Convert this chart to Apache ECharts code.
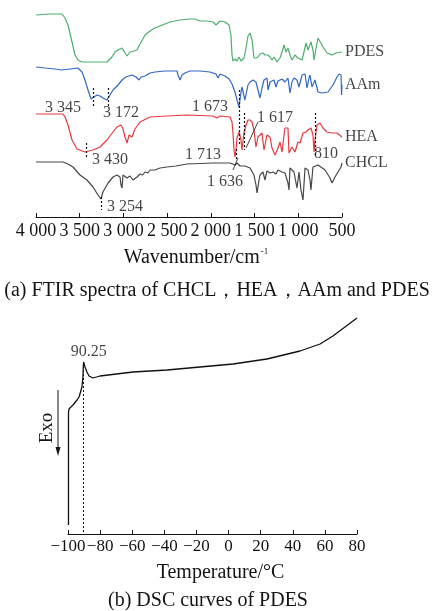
<!DOCTYPE html>
<html>
<head>
<meta charset="utf-8">
<script src="https://cdn.jsdelivr.net/npm/echarts@6.0.0/dist/echarts.min.js"></script>
<style>
  html, body { margin: 0; padding: 0; background: #fff; }
  #chart { width: 434px; height: 611px; }
</style>
</head>
<body>
<div id="chart"></div>
<script>
// FTIR spectra, [wavenumber (cm-1), relative transmittance (a.u., curves offset)]
const pdesSpec = [
  [4000, 202], [3840, 203], [3703, 203], [3668, 199], [3634, 192], [3588, 175], [3554, 162], [3520, 157],
  [3474, 155], [3188, 155], [3131, 160], [3096, 165], [3062, 167], [3016, 169], [2982, 164], [2959, 161],
  [2925, 165], [2879, 166], [2845, 167], [2810, 173], [2753, 182], [2696, 186], [2639, 189], [2582, 191],
  [2467, 195], [2353, 197], [2239, 198], [2181, 198], [2124, 196], [2044, 196], [1975, 195], [1941, 192],
  [1918, 194], [1895, 196], [1838, 195], [1792, 192], [1770, 182], [1758, 162], [1747, 156], [1724, 158],
  [1701, 156], [1678, 160], [1655, 156], [1621, 159], [1598, 169], [1575, 181], [1552, 184], [1529, 177],
  [1507, 159], [1484, 159], [1461, 160], [1438, 163], [1404, 164], [1381, 162], [1346, 162], [1323, 160],
  [1301, 157], [1278, 160], [1243, 155], [1209, 159], [1186, 165], [1163, 172], [1140, 165], [1118, 169],
  [1095, 162], [1072, 157], [1038, 162], [1003, 159], [957, 157], [935, 165], [912, 174], [889, 167],
  [855, 175], [832, 167], [820, 157], [797, 169], [774, 179], [752, 180], [717, 170], [672, 164],
  [614, 162], [569, 164], [500, 165]
];
const aamSpec = [
  [4000, 150], [3897, 149], [3783, 148], [3703, 147], [3611, 148], [3520, 149], [3474, 145], [3440, 137],
  [3405, 127], [3371, 118], [3359, 117], [3337, 120], [3302, 122], [3268, 121], [3234, 119], [3188, 117],
  [3154, 122], [3119, 127], [3062, 132], [3016, 137], [2971, 140], [2902, 142], [2856, 140], [2822, 137],
  [2799, 140], [2753, 141], [2696, 144], [2639, 145], [2525, 146], [2387, 146], [2376, 142], [2353, 137],
  [2330, 142], [2296, 144], [2239, 146], [2124, 146], [2010, 145], [1941, 143], [1918, 139], [1895, 143],
  [1838, 141], [1792, 138], [1758, 133], [1724, 125], [1701, 117], [1678, 110], [1655, 125], [1644, 130],
  [1621, 121], [1610, 117], [1587, 127], [1575, 132], [1552, 135], [1518, 137], [1484, 135], [1461, 127],
  [1438, 119], [1415, 129], [1392, 137], [1358, 139], [1346, 127], [1323, 135], [1301, 137], [1278, 137],
  [1255, 130], [1232, 136], [1186, 138], [1152, 135], [1118, 139], [1095, 124], [1072, 135], [1049, 139],
  [1015, 137], [992, 130], [957, 142], [923, 143], [900, 129], [877, 139], [866, 142], [843, 130],
  [809, 137], [774, 125], [729, 124], [660, 125], [603, 132], [557, 140], [534, 143], [511, 142],
  [505, 122], [500, 132]
];
const heaSpec = [
  [4000, 103], [3840, 103], [3691, 103], [3668, 100], [3634, 92], [3588, 77], [3531, 68], [3440, 65],
  [3348, 67], [3268, 70], [3188, 77], [3119, 85], [3074, 90], [3028, 92], [3005, 88], [2982, 80],
  [2959, 74], [2936, 82], [2902, 80], [2868, 88], [2810, 95], [2696, 100], [2502, 101], [2273, 102],
  [1975, 101], [1930, 99], [1895, 101], [1781, 100], [1758, 95], [1747, 84], [1735, 67], [1724, 60],
  [1712, 67], [1701, 79], [1678, 85], [1655, 77], [1644, 67], [1621, 84], [1598, 92], [1575, 97],
  [1552, 97], [1529, 95], [1507, 87], [1484, 70], [1461, 80], [1415, 84], [1392, 67], [1358, 82],
  [1323, 80], [1301, 69], [1266, 62], [1232, 69], [1209, 75], [1186, 65], [1163, 82], [1152, 89],
  [1118, 89], [1106, 64], [1072, 70], [1038, 65], [1003, 75], [980, 74], [946, 84], [912, 85],
  [889, 87], [855, 89], [832, 82], [820, 65], [809, 77], [786, 92], [752, 94], [717, 89],
  [672, 85], [614, 84], [557, 84], [500, 80]
];
const chclSpec = [
  [4000, 55], [3840, 55], [3691, 55], [3634, 53], [3577, 50], [3497, 42], [3417, 37], [3348, 30],
  [3291, 22], [3257, 18], [3234, 25], [3176, 34], [3119, 40], [3074, 42], [3039, 40], [3028, 32],
  [3016, 29], [3005, 42], [2959, 39], [2925, 41], [2891, 37], [2845, 40], [2810, 43], [2780, 42],
  [2753, 45], [2720, 44], [2696, 47], [2640, 47], [2582, 49], [2502, 50], [2400, 51], [2273, 53],
  [1975, 54], [1781, 54], [1724, 52], [1701, 54], [1667, 51], [1610, 51], [1552, 49], [1507, 42],
  [1484, 32], [1472, 24], [1449, 37], [1438, 42], [1404, 45], [1381, 37], [1358, 46], [1323, 44],
  [1289, 45], [1255, 43], [1232, 47], [1186, 45], [1152, 44], [1118, 34], [1106, 27], [1095, 49],
  [1049, 45], [1015, 29], [992, 45], [969, 27], [946, 17], [923, 49], [889, 47], [866, 37],
  [855, 27], [832, 50], [774, 52], [694, 47], [637, 39], [614, 34], [580, 40], [546, 45],
  [511, 50], [500, 54]
];
const ftirNames = ['PDES', 'AAm', 'HEA', 'CHCL'];
const ftirTicks = [500, 1000, 1500, 2000, 2500, 3000, 3500, 4000];

// peak marks: [wavenumber, from, to]
const peakGuides = [
  [3345, 129, 110], [3172, 129, 110], [1673, 127, 72], [1617, 104, 67],
  [810, 104, 62], [3430, 74, 59], [3254, 20, 7], [1713, 68, 58]
];
// leader lines: [[w1, v1], [w2, v2]]
const peakLeaders = [
  [[1461, 95], [1598, 69]],
  [[1690, 59], [1747, 47]]
];
// peak labels: [wavenumber, value, text]
const peakLabels = [
  [3691, 109, '3 345'], [3028, 104, '3 172'], [2010, 110, '1 673'], [1266, 99, '1 617'],
  [3154, 57, '3 430'], [2090, 62, '1 713'], [683, 63, '810'], [1838, 35, '1 636'], [2982, 10, '3 254']
];

// DSC curve, [temperature (°C), heat flow (a.u.)]
const dscCurve = [
  [-99.7, 9], [-99.7, 121], [-99.4, 125], [-98.8, 127], [-96.9, 129], [-94.4, 134], [-93.1, 137],
  [-92.5, 139], [-91.3, 147], [-90.7, 157], [-90.45, 168], [-90.25, 172], [-89.9, 170], [-89.4, 167],
  [-88.2, 162], [-86.9, 158], [-85.7, 156], [-84.4, 156], [-83.2, 157], [-80.1, 158], [-59.5, 162],
  [-38.3, 164], [-17.8, 167], [2.8, 170], [23.9, 175], [44.5, 183], [57.0, 190], [65.0, 198],
  [72.5, 207], [80, 216]
];
const dscPeak = [-90.25, 172, '90.25'];
const dscTicks = [-100, -80, -60, -40, -20, 0, 20, 40, 60, 80];

const FONT = "'Liberation Serif', 'Times New Roman', serif";
const INK = '#161314';
const colors = ['#4dae6e', '#3168c2', '#e8393f', '#474747'];
const specs = [pdesSpec, aamSpec, heaSpec, chclSpec];

function axisBase(grid, ticks) {
  return {
    gridIndex: grid,
    type: 'value',
    min: ticks[0],
    max: ticks[ticks.length - 1],
    interval: ticks[1] - ticks[0],
    axisLine: { lineStyle: { color: INK, width: 1 } },
    axisTick: { inside: true, length: 4, lineStyle: { color: INK } },
    splitLine: { show: false },
    nameLocation: 'middle'
  };
}

function textLabels(xi, data, pos) {
  return {
    type: 'scatter',
    xAxisIndex: xi, yAxisIndex: xi,
    data: data,
    symbolSize: 0,
    silent: true,
    z: 4,
    label: {
      show: true, position: pos, distance: 3,
      formatter: p => p.data[2],
      color: INK, fontSize: 16, fontFamily: FONT,
      textBorderWidth: 0
    }
  };
}

const ftirSeries = specs.map((d, i) => ({
  name: ftirNames[i],
  type: 'line',
  xAxisIndex: 0, yAxisIndex: 0,
  data: d,
  showSymbol: false,
  lineStyle: { color: colors[i], width: 1.2 },
  z: 2
}));

// dashed guides + leaders on top of the spectra
ftirSeries.push({
  type: 'line',
  xAxisIndex: 0, yAxisIndex: 0,
  data: [],
  markLine: {
    silent: true, symbol: 'none', animation: false,
    label: { show: false },
    data: peakGuides.map(g => [
      { coord: [g[0], g[1]], lineStyle: { type: [2, 2], color: INK, width: 1.2 } },
      { coord: [g[0], g[2]] }
    ]).concat(peakLeaders.map(l => [
      { coord: l[0], lineStyle: { type: 'solid', color: INK, width: 0.8 } },
      { coord: l[1] }
    ]))
  },
  z: 3
});

ftirSeries.push(textLabels(0, peakLabels, 'inside'));
// curve names at the right end of each spectrum
ftirSeries.push(textLabels(0, specs.map((d, i) => [d[d.length - 1][0], d[d.length - 1][1], ftirNames[i]]), 'right'));

const dscSeries = [
  {
    type: 'line',
    xAxisIndex: 1, yAxisIndex: 1,
    data: dscCurve,
    showSymbol: false,
    lineStyle: { color: '#111', width: 1.3 },
    markLine: {
      silent: true, symbol: 'none', animation: false,
      label: { show: false },
      lineStyle: { type: [2, 2], color: INK, width: 1 },
      data: [[{ coord: [dscPeak[0], dscPeak[1]] }, { coord: [dscPeak[0], 0] }]]
    }
  },
  textLabels(1, [[dscPeak[0] + 3.2, dscPeak[1] + 10, dscPeak[2]]], 'inside')
];

const chart = echarts.init(document.getElementById('chart'));
chart.setOption({
  animation: false,
  backgroundColor: '#fff',
  title: [
    {
      text: '(a) FTIR spectra of CHCL，HEA，AAm and PDES',
      left: 'center', top: 281, padding: 0,
      textStyle: { color: INK, fontSize: 20, fontWeight: 'normal', fontFamily: FONT }
    },
    {
      text: '(b) DSC curves of PDES',
      left: 108, top: 591, padding: 0,
      textStyle: { color: INK, fontSize: 20, fontWeight: 'normal', fontFamily: FONT }
    }
  ],
  grid: [
    { left: 36, top: 7, width: 306, height: 210 },
    { left: 68, top: 310, width: 289, height: 224 }
  ],
  xAxis: [
    Object.assign(axisBase(0, ftirTicks), {
      inverse: true,
      name: '{a|Wavenumber/cm}{s|-1}',
      nameGap: 30,
      nameTextStyle: {
        padding: [0, 0, 0, 14],
        rich: {
          a: { color: INK, fontSize: 20, fontFamily: FONT },
          s: { color: INK, fontSize: 9, fontFamily: FONT, padding: [0, 0, 12, 1] }
        }
      },
      axisLabel: {
        color: INK, fontSize: 18, fontFamily: FONT, margin: 5,
        showMinLabel: true, showMaxLabel: true, hideOverlap: false,
        formatter: v => v >= 1000 ? Math.floor(v / 1000) + ' ' + String(v % 1000).padStart(3, '0') : String(v)
      }
    }),
    Object.assign(axisBase(1, dscTicks), {
      name: 'Temperature/°C',
      nameGap: 29,
      nameTextStyle: { color: INK, fontSize: 20, fontFamily: FONT, padding: [0, 0, 0, 16] },
      axisLabel: {
        color: INK, fontSize: 17, fontFamily: FONT, margin: 4,
        showMinLabel: true, showMaxLabel: true, hideOverlap: false,
        formatter: v => String(v).replace('-', '\u2212')
      }
    })
  ],
  yAxis: [
    { gridIndex: 0, type: 'value', min: 0, max: 210, show: false },
    { gridIndex: 1, type: 'value', min: 0, max: 224, show: false }
  ],
  graphic: [
    {
      type: 'text', x: 47, y: 428, rotation: Math.PI / 2,
      style: { text: 'Exo', fill: INK, font: '19px ' + FONT, align: 'center', verticalAlign: 'middle' }
    },
    {
      type: 'line', shape: { x1: 58, y1: 390, x2: 58, y2: 450 },
      style: { stroke: INK, lineWidth: 1 }
    },
    {
      type: 'polygon', shape: { points: [[55.5, 447], [60.5, 447], [58, 456]] },
      style: { fill: INK }
    }
  ],
  series: ftirSeries.concat(dscSeries)
});
</script>
</body>
</html>
